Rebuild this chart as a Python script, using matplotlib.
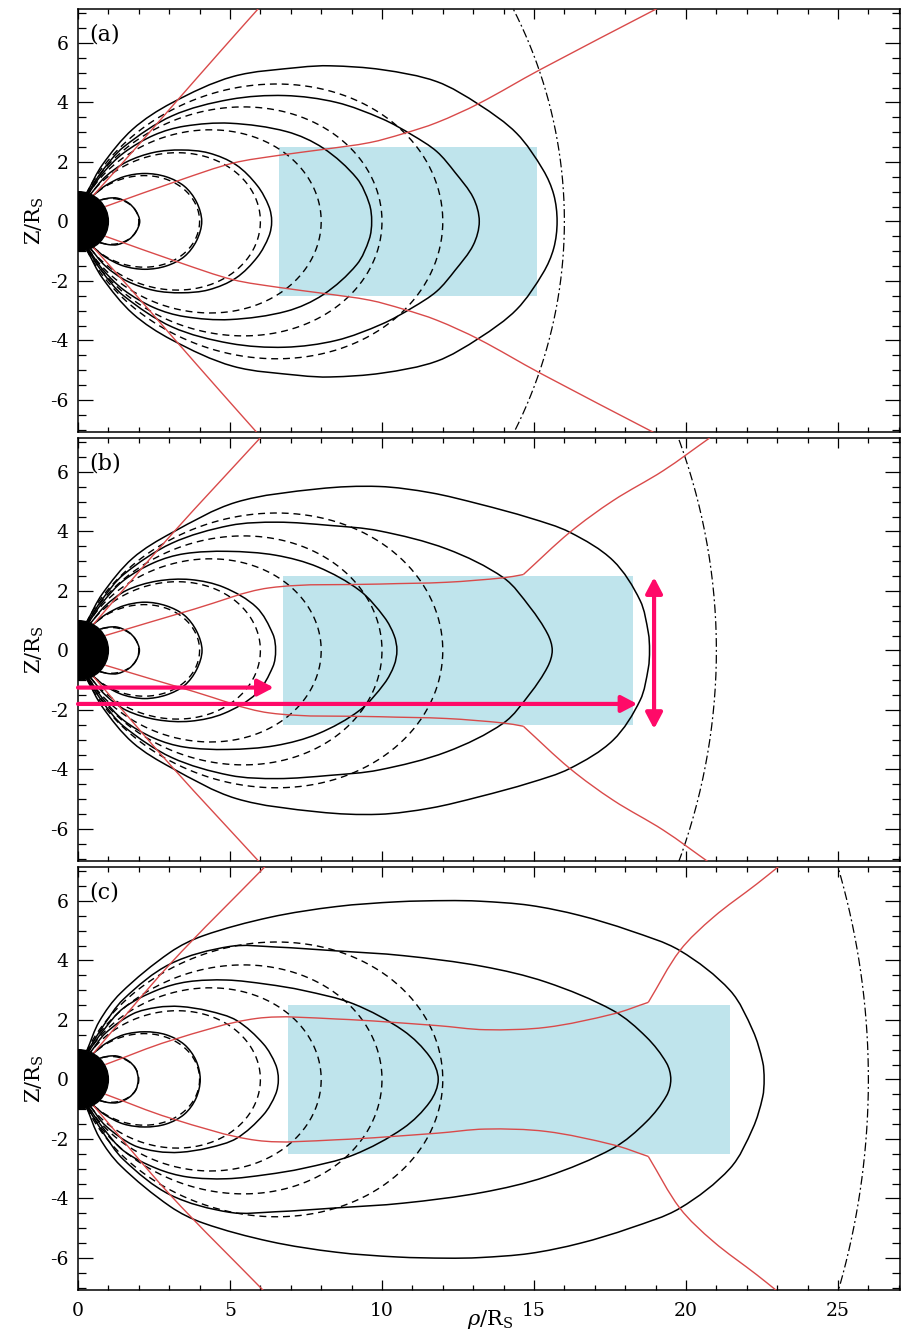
import numpy as np
import matplotlib.pyplot as plt
from matplotlib.patches import Circle, Rectangle, PathPatch
from matplotlib.path import Path
from matplotlib.ticker import MultipleLocator

plt.rcParams['font.family'] = ['DejaVu Serif']
plt.rcParams['mathtext.fontset'] = 'dejavuserif'
plt.rcParams['axes.unicode_minus'] = False

# ---- data ----
panel_tags = ['(a)', '(b)', '(c)']
dipole_L = [2, 4, 6, 8, 10, 12]          # dashed dipole field lines
disk_inner = [6.6, 6.75, 6.9]            # ring current disk, rho range
disk_outer = [15.1, 18.25, 21.45]
disk_half = 2.5                          # half thickness
mpause_r = [16, 21, 26]                  # dash-dot boundary radius

# model field lines, upper half (rho, z), footpoint -> equator
lines_a = [
    [(0.71, 0.71), (1.0, 0.78), (1.3, 0.78), (1.66, 0.62), (1.9, 0.36), (2.03, 0)],
    [(0.5, 0.87), (0.9, 1.2), (1.5, 1.5), (2.2, 1.61), (2.9, 1.5), (3.5, 1.18), (3.9, 0.65), (4.07, 0)],
    [(0.41, 0.91), (0.9, 1.5), (1.6, 2.0), (2.5, 2.32), (3.4, 2.4), (4.3, 2.3), (5.2, 1.9),
     (5.9, 1.2), (6.28, 0.5), (6.37, 0)],
    [(0.35, 0.94), (0.8, 1.6), (1.5, 2.3), (2.5, 2.9), (3.5, 3.2), (5.0, 3.3), (6.86, 3.02),
     (8.07, 2.46), (9.17, 1.45), (9.58, 0.6), (9.66, 0)],
    [(0.32, 0.95), (0.8, 1.7), (1.5, 2.5), (3.1, 3.55), (5.0, 4.1), (6.8, 4.23), (8.5, 4.0),
     (10.0, 3.45), (11.0, 2.9), (11.8, 2.35), (12.4, 1.65), (13.0, 0.8), (13.2, 0)],
    [(0.29, 0.96), (0.8, 1.9), (1.8, 3.1), (3.08, 3.98), (5.1, 4.87), (7.3, 5.18), (8.3, 5.23),
     (10.0, 5.1), (11.8, 4.7), (13.2, 3.92), (14.43, 2.96), (15.3, 1.73), (15.65, 0.9), (15.76, 0)],
]
lines_b = [
    [(0.71, 0.71), (1.0, 0.78), (1.3, 0.78), (1.66, 0.62), (1.9, 0.36), (2.02, 0)],
    [(0.5, 0.87), (0.9, 1.2), (1.5, 1.5), (2.2, 1.62), (2.9, 1.5), (3.5, 1.18), (3.9, 0.65), (4.08, 0)],
    [(0.41, 0.91), (0.9, 1.5), (1.6, 2.02), (2.6, 2.33), (3.7, 2.38), (4.8, 2.12), (5.87, 1.45),
     (6.41, 0.55), (6.5, 0)],
    [(0.35, 0.94), (0.8, 1.6), (1.5, 2.35), (2.5, 2.95), (3.5, 3.25), (4.92, 3.33), (6.5, 3.2),
     (7.9, 2.8), (9.27, 2.01), (10.08, 1.11), (10.4, 0.5), (10.49, 0)],
    [(0.32, 0.95), (0.8, 1.72), (1.5, 2.55), (3.08, 3.6), (5.0, 4.2), (6.55, 4.31), (8.3, 4.2),
     (9.9, 4.02), (12.13, 3.41), (14.0, 2.44), (14.87, 1.45), (15.45, 0.55), (15.6, 0)],
    [(0.29, 0.96), (0.8, 1.9), (1.8, 3.1), (3.08, 3.95), (5.2, 4.98), (7.9, 5.43), (9.9, 5.51),
     (11.6, 5.3), (13.2, 4.92), (14.87, 4.45), (16.18, 3.97), (17.6, 3.02), (18.49, 1.68),
     (18.76, 0.6), (18.8, 0)],
]
lines_c = [
    [(0.71, 0.71), (1.0, 0.78), (1.3, 0.78), (1.66, 0.62), (1.9, 0.36), (1.98, 0)],
    [(0.5, 0.87), (0.9, 1.2), (1.5, 1.5), (2.2, 1.6), (2.9, 1.5), (3.5, 1.17), (3.88, 0.64), (4.02, 0)],
    [(0.41, 0.91), (0.9, 1.55), (1.8, 2.2), (2.6, 2.42), (3.36, 2.45), (4.3, 2.3), (5.22, 1.98),
     (6.1, 1.19), (6.5, 0.5), (6.59, 0)],
    [(0.35, 0.94), (0.8, 1.6), (1.5, 2.4), (2.6, 3.0), (3.6, 3.28), (4.89, 3.34), (6.2, 3.2),
     (7.41, 2.99), (9.06, 2.54), (10.7, 1.64), (11.58, 0.75), (11.85, 0)],
    [(0.32, 0.95), (0.8, 1.75), (1.5, 2.7), (3.03, 3.88), (5.0, 4.47), (6.5, 4.45), (8.5, 4.32),
     (10.7, 4.16), (13.3, 3.8), (15.4, 3.27), (17.61, 2.31), (18.7, 1.42), (19.36, 0.55), (19.5, 0)],
    [(0.29, 0.96), (0.7, 1.95), (1.4, 2.9), (3.03, 4.27), (4.12, 4.83), (6.32, 5.45), (8.5, 5.81),
     (10.5, 5.97), (12.13, 6.01), (13.22, 5.99), (14.87, 5.85), (16.51, 5.51), (18.16, 5.0),
     (19.8, 4.33), (21.45, 2.99), (22.2, 1.64), (22.52, 0.6), (22.57, 0)],
]

# red curves, upper half (mirrored below); split where the curve has a corner
red_a = [
    [(0.5, 0.87), (1.93, 2.5), (3.14, 3.92), (4.67, 5.7), (5.93, 7.15)],
    [(0.9, 0.5), (3.36, 1.39), (5.1, 1.96), (6.61, 2.22), (8.07, 2.42), (9.6, 2.65),
     (10.7, 2.95), (11.8, 3.32), (13.2, 3.97), (15.2, 5.1), (19.04, 7.15)],
]
red_b = [
    [(0.5, 0.87), (3.08, 3.9), (6.0, 7.15)],
    [(0.9, 0.5), (3.83, 1.39), (6.28, 2.1), (9.93, 2.23), (12.13, 2.29), (13.99, 2.44), (14.65, 2.55)],
    [(14.65, 2.55), (16.18, 3.97), (17.61, 5.04), (19.25, 6.04), (20.79, 7.15)],
]
red_c = [
    [(0.5, 0.87), (3.03, 3.88), (6.15, 7.15)],
    [(0.9, 0.5), (3.03, 1.30), (5.88, 2.05), (8.5, 2.03), (11.8, 1.81), (13.4, 1.67),
     (15.4, 1.75), (17.61, 2.2), (18.76, 2.59)],
    [(18.76, 2.59), (19.8, 4.33), (20.9, 5.45), (22.33, 6.57), (23.04, 7.15)],
]

# arrows drawn in panel (b): (x0, z0, x1, z1)
arrows_b = [(0.0, -1.25, 6.44, -1.25), (0.0, -1.8, 18.4, -1.8)]
vert_arrow_b = (18.95, -2.64, 18.95, 2.46)

field_lines = [lines_a, lines_b, lines_c]
red_lines = [red_a, red_b, red_c]

BLUE = '#bfe4ec'
RED = '#d94a4a'
PINK = '#ff0a68'


def smooth_path(x, z):
    # cubic path through the read points, tangents scaled by chord length
    p = np.column_stack([x, z]).astype(float)
    n = len(p)
    d = np.hypot(*np.diff(p, axis=0).T)
    m = np.zeros_like(p)
    m[0] = (p[1] - p[0]) / d[0]
    m[-1] = (p[-1] - p[-2]) / d[-1]
    for k in range(1, n - 1):
        m[k] = (p[k + 1] - p[k - 1]) / (d[k - 1] + d[k])
    verts = [p[0]]
    codes = [Path.MOVETO]
    for k in range(n - 1):
        verts += [p[k] + m[k] * d[k] / 3, p[k + 1] - m[k + 1] * d[k] / 3, p[k + 1]]
        codes += [Path.CURVE4] * 3
    return Path(verts, codes)


fig = plt.figure(figsize=(9.04, 13.31), dpi=100)
left, width, height = 78 / 904, 822 / 904, 423 / 1331
bottoms = [1 - 432 / 1331, 1 - 861 / 1331, 1 - 1290 / 1331]

for i in range(3):
    ax = fig.add_axes([left, bottoms[i], width, height])

    ax.add_patch(Rectangle((disk_inner[i], -disk_half), disk_outer[i] - disk_inner[i],
                           2 * disk_half, facecolor=BLUE, edgecolor='none', zorder=1))

    # dipole lines
    for L in dipole_L:
        lam0 = np.arccos(np.sqrt(1.0 / L))
        lam = np.linspace(-lam0, lam0, 300)
        r = L * np.cos(lam) ** 2
        ax.plot(r * np.cos(lam), r * np.sin(lam), color='black', lw=1.0,
                linestyle=(0, (5, 3.5)), zorder=2)

    # model field lines
    for pts in field_lines[i]:
        p = np.array(pts)
        x = np.concatenate([p[:, 0], p[-2::-1, 0]])
        z = np.concatenate([p[:, 1], -p[-2::-1, 1]])
        ax.add_patch(PathPatch(smooth_path(x, z), facecolor='none', edgecolor='black',
                               lw=1.1, zorder=3))

    for pts in red_lines[i]:
        p = np.array(pts)
        for sgn in (1, -1):
            ax.add_patch(PathPatch(smooth_path(p[:, 0], sgn * p[:, 1]), facecolor='none',
                                   edgecolor=RED, lw=1.0, zorder=4))

    # boundary arc
    th = np.linspace(-np.pi / 2, np.pi / 2, 600)
    ax.plot(mpause_r[i] * np.cos(th), mpause_r[i] * np.sin(th), color='black', lw=0.9,
            linestyle=(0, (7, 2.5, 1.5, 2.5)), zorder=3)

    ax.add_patch(Circle((0, 0), 1.0, facecolor='black', edgecolor='black', zorder=6))

    if i == 1:
        for x0, z0, x1, z1 in arrows_b:
            ax.annotate('', xy=(x1, z1), xytext=(x0, z0),
                        arrowprops=dict(arrowstyle='-|>,head_length=0.95,head_width=0.5',
                                        color=PINK, lw=3, shrinkA=0, shrinkB=0,
                                        mutation_scale=10), zorder=7)
        x0, z0, x1, z1 = vert_arrow_b
        ax.annotate('', xy=(x1, z1), xytext=(x0, z0),
                    arrowprops=dict(arrowstyle='<|-|>,head_length=0.95,head_width=0.5',
                                    color=PINK, lw=3, shrinkA=0, shrinkB=0,
                                    mutation_scale=10), zorder=7)

    ax.text(0.38, 6.27, panel_tags[i], fontsize=16, va='center', ha='left', zorder=8)

    ax.set_xlim(0, 27.04)
    ax.set_ylim(-7.08, 7.14)
    ax.set_xticks([0, 5, 10, 15, 20, 25])
    ax.xaxis.set_minor_locator(MultipleLocator(1))
    ax.set_yticks([-6, -4, -2, 0, 2, 4, 6])
    ax.yaxis.set_minor_locator(MultipleLocator(0.5))
    ax.tick_params(axis='both', which='both', direction='in', top=True, right=True,
                   width=0.9, labelsize=13.5)
    ax.tick_params(axis='y', which='major', length=11, pad=7)
    ax.tick_params(axis='y', which='minor', length=6)
    ax.tick_params(axis='x', which='major', length=7, pad=9)
    ax.tick_params(axis='x', which='minor', length=3.5)
    for s in ax.spines.values():
        s.set_linewidth(1.1)
    ax.set_ylabel(r'Z/R$_\mathrm{S}$', fontsize=15, labelpad=3)
    if i < 2:
        ax.tick_params(axis='x', labelbottom=False)

fig.text(490 / 904, 6 / 1331, r'$\rho$/R$_\mathrm{S}$', fontsize=15, ha='center', va='baseline')

fig.savefig('out.png', dpi=100)
